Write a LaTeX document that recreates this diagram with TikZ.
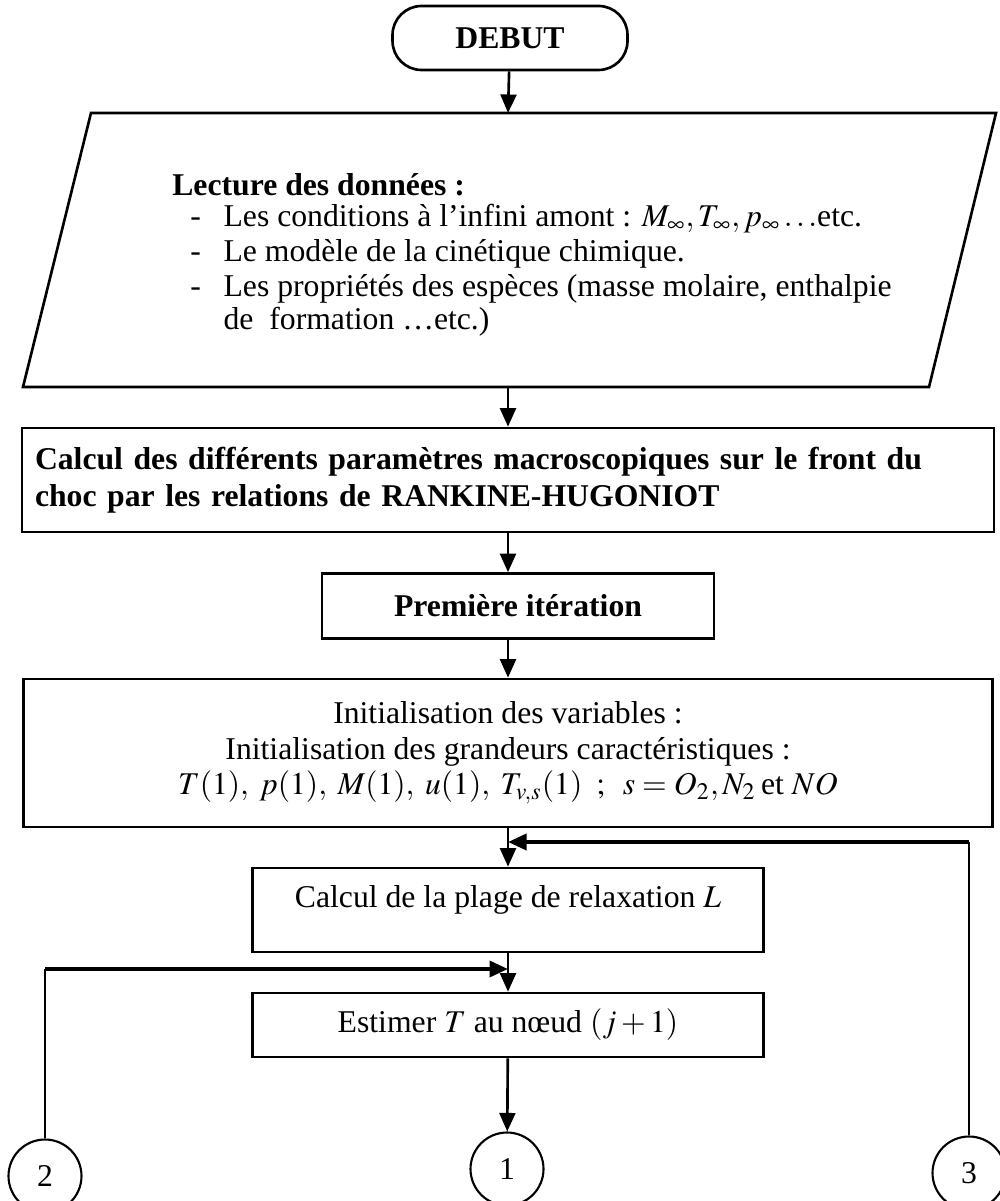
\documentclass[tikz,border=0pt]{standalone}
\usepackage{mathptmx}
\usepackage{fontspec}
\setmainfont{Liberation Serif}
\usetikzlibrary{arrows.meta,calc}

\tikzset{
  box/.style={rectangle, draw=black, line width=1pt, inner sep=0pt},
  bold/.style={font=\fontsize{12}{14}\selectfont\bfseries},
  flow/.style={-{Triangle[length=7pt,width=6pt]}, line width=1pt},
  back/.style={-{Triangle[length=7pt,width=6pt]}, line width=1.5pt},
  conn/.style={circle, draw=black, line width=0.8pt, minimum size=73*0.0133cm, inner sep=0pt},
}

\begin{document}
\begin{tikzpicture}[x=0.0133cm, y=-0.0133cm, font=\fontsize{12}{14}\selectfont]
  \useasboundingbox (0,0) rectangle (999,1201);

  \node[box, bold, rounded corners=11pt, minimum width=235*0.0133cm, minimum height=64*0.0133cm] (debut) at (510,38) {DEBUT};

  % lecture des donnees
  \draw[line width=1pt] (23,387) -- (91,113) -- (996,113) -- (929,387) -- cycle;
  \coordinate (ptop) at (508,113);
  \coordinate (pbot) at (508,387);
  \node[anchor=west, bold] (lect) at (163,185) {Lecture des données :};
  \node[anchor=west] (item1) at (181,219) {\makebox[1.05em][l]{-}Les conditions à l'infini amont : $M_{\infty}, T_{\infty}, p_{\infty}\ldots$etc.};
  \node[anchor=west] (item2) at (181,254) {\makebox[1.05em][l]{-}Le modèle de la cinétique chimique.};
  \node[anchor=west] (item3) at (181,289) {\makebox[1.05em][l]{-}Les propriétés des espèces (masse molaire, enthalpie};
  \node[anchor=west] (item3b) at (181,322) {\hspace{1.05em}de~ formation \ldots etc.)};

  \node[box, minimum width=972*0.0133cm, minimum height=104*0.0133cm, text width=946*0.0133cm, align=left, font=\fontsize{12}{14}\selectfont\bfseries] (rh) at (508,480)
    {Calcul des différents paramètres macroscopiques sur le front du\\ choc par les relations de RANKINE-HUGONIOT};

  \node[box, bold, minimum width=392*0.0133cm, minimum height=65*0.0133cm] (prem) at (518,606) {Première itération};

  \node[box, minimum width=969*0.0133cm, minimum height=148*0.0133cm, align=center, font=\fontsize{12}{13.5}\selectfont] (init) at (508,753)
    {Initialisation des variables :\\ Initialisation des grandeurs caractéristiques :\\
     $T(1),\; p(1),\; M(1),\; u(1),\; T_{v,s}(1)\;\;;\;\; s = O_2, N_2$\,et $NO$};

  \node[box, minimum width=511*0.0133cm, minimum height=84*0.0133cm, text height=0.68em, text depth=0.84em] (calc) at (508,910) {Calcul de la plage de relaxation $L$};
  \node[box, minimum width=511*0.0133cm, minimum height=64*0.0133cm] (est) at (508,1025) {Estimer $T$ au nœud $(j+1)$};

  \node[conn] (c2) at (45,1176) {2};
  \node[conn] (c1) at (507,1169) {1};
  \node[conn] (c3) at (969,1173) {3};

  \coordinate (j3) at (508,842);
  \coordinate (j2) at (508,969);

  \draw[flow] (debut) -- (ptop);
  \draw[flow] (pbot) -- (rh);
  \draw[flow] (rh.south) -- (rh.south |- prem.north);
  \draw[flow] (rh.south |- prem.south) -- (init.north);
  \draw[flow] (init) -- (calc);
  \draw[flow] (calc) -- (est);
  \draw[flow] (est) -- (c1);

  \draw[line width=0.7pt] (c3.north) -- (c3.north |- j3);
  \draw[back] (c3.north |- j3) -- (j3);
  \draw[line width=0.7pt] (c2.north) -- (c2.north |- j2);
  \draw[back] (c2.north |- j2) -- (j2);
\end{tikzpicture}
\end{document}
